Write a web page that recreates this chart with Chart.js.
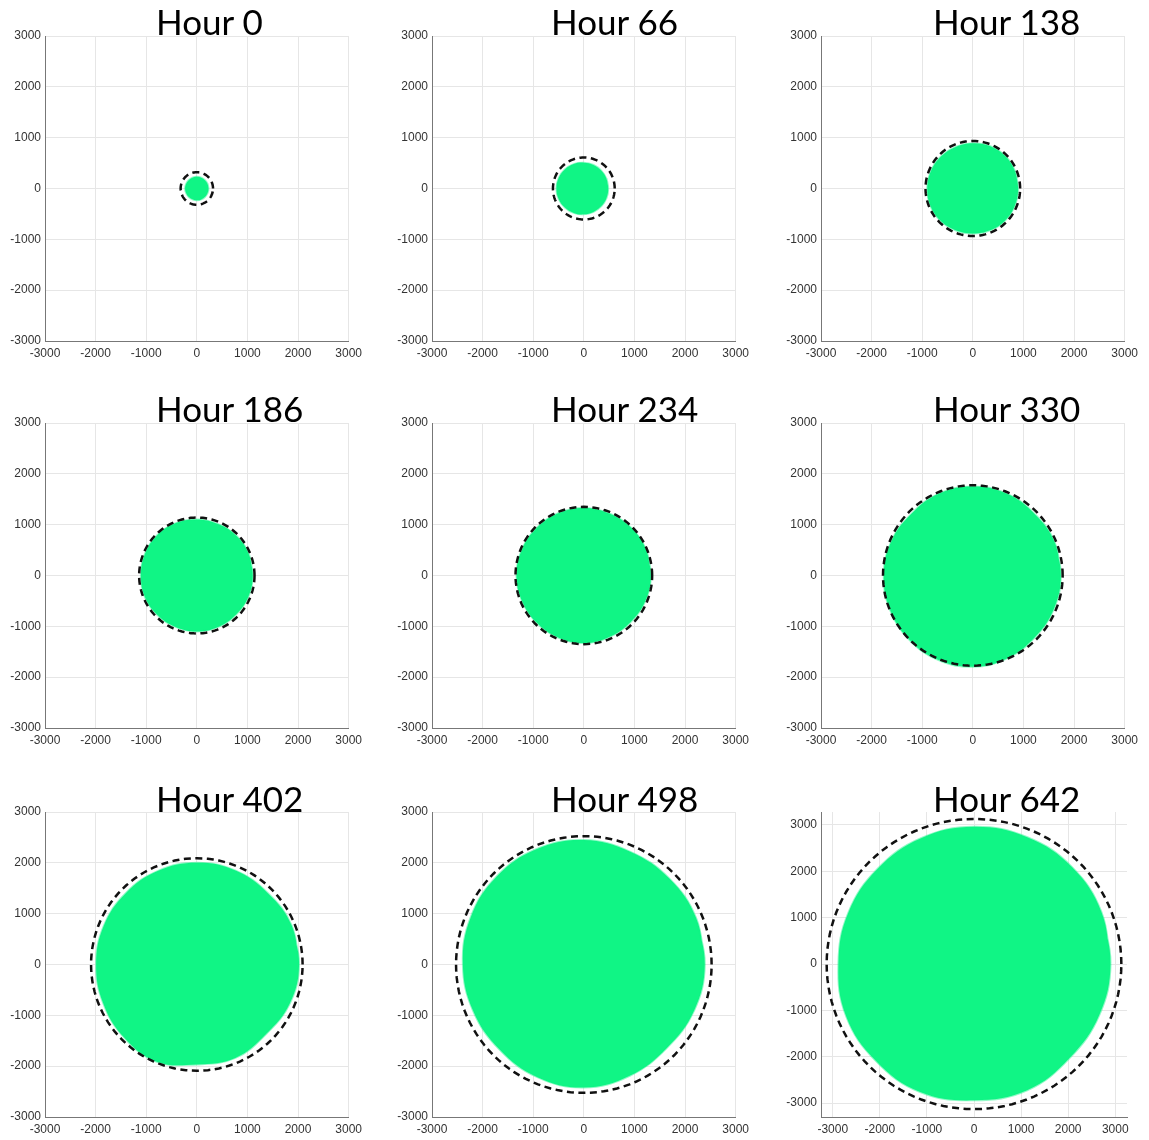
<!DOCTYPE html>
<html>
<head>
<meta charset="utf-8">
<title>Hour panels</title>
<script src="https://cdn.jsdelivr.net/npm/chart.js@4.4.1/dist/chart.umd.min.js"></script>
<style>
    body { margin: 0; background: #fff; width: 1149px; height: 1140px; position: relative; overflow: hidden; }
    .painel { position: absolute; }
    .titulo { position: absolute; font-family: Lato, "Noto Sans", sans-serif; font-size: 35px; line-height: 35px; color: #000; white-space: nowrap; }
</style>
</head>
<body>
<script>
// horas de cada painel
const hours = [0, 66, 138, 186, 234, 330, 402, 498, 642];

// raio do círculo tracejado (mesma unidade dos eixos)
const circleRadius = [320, 610, 935, 1140, 1350, 1775, 2090, 2525, 3130];

// contorno da mancha verde: raio a cada 22.5 graus, começando a leste, sentido anti-horário
const blob0 = [230, 230, 228, 230, 232, 230, 228, 230, 232, 230, 230, 228, 230, 232, 230, 230];
const blob66 = [482, 486, 492, 500, 508, 520, 530, 538, 542, 538, 530, 520, 508, 498, 490, 485];
const blob138 = [895, 900, 905, 900, 890, 885, 890, 895, 900, 905, 900, 890, 885, 890, 895, 895];
const blob186 = [1105, 1110, 1105, 1095, 1100, 1110, 1115, 1110, 1105, 1110, 1100, 1095, 1100, 1095, 1090, 1100];
const blob234 = [1325, 1330, 1325, 1320, 1330, 1325, 1320, 1325, 1330, 1320, 1315, 1320, 1330, 1310, 1300, 1315];
const blob330 = [1740, 1745, 1720, 1745, 1752, 1745, 1715, 1745, 1760, 1770, 1780, 1795, 1795, 1765, 1725, 1730];
const blob402 = [2020, 2025, 1985, 2000, 2000, 1995, 1985, 1990, 1990, 2000, 2030, 2070, 1965, 1990, 1935, 1990];
const blob498 = [2390, 2400, 2390, 2400, 2450, 2455, 2440, 2420, 2390, 2370, 2360, 2400, 2420, 2370, 2320, 2360];
const blob642 = [2900, 2930, 2950, 2960, 2960, 2940, 2900, 2890, 2880, 2940, 2950, 2990, 2940, 2950, 2870, 2880];
const blobs = [blob0, blob66, blob138, blob186, blob234, blob330, blob402, blob498, blob642];

// limites dos eixos (o último painel é um pouco maior)
const xMin = [-3000, -3000, -3000, -3000, -3000, -3000, -3000, -3000, -3250];
const xMax = [3000, 3000, 3000, 3000, 3000, 3000, 3000, 3000, 3250];
const yMin = [-3000, -3000, -3000, -3000, -3000, -3000, -3000, -3000, -3300];
const yMax = [3000, 3000, 3000, 3000, 3000, 3000, 3000, 3000, 3280];
const tickValues = [-3000, -2000, -1000, 0, 1000, 2000, 3000];

document.addEventListener('DOMContentLoaded', function () {
    const colLeft = [0, 387, 776];
    const rowTop = [24, 411, 800];
    const titleLeft = [156, 551, 933];
    const titleBase = [35, 422, 812];

    function circlePoints(r) {
        const pts = [];
        for (let k = 0; k <= 120; k++) {
            const a = k / 120 * 2 * Math.PI;
            pts.push({ x: r * Math.cos(a), y: r * Math.sin(a) });
        }
        return pts;
    }

    function blobPoints(radii) {
        const pts = radii.map(function (r, k) {
            const a = k * 2 * Math.PI / radii.length;
            return { x: r * Math.cos(a), y: r * Math.sin(a) };
        });
        // repete os dois primeiros pontos para a curva fechar sem quina
        pts.push({ x: pts[0].x, y: pts[0].y });
        pts.push({ x: pts[1].x, y: pts[1].y });
        return pts;
    }

    function axis(min, max, isX) {
        return {
            type: 'linear',
            min: min,
            max: max,
            afterBuildTicks: function (s) { s.ticks = tickValues.map(v => ({ value: v })); },
            afterFit: function (s) {
                if (isX) s.height = 28; else s.width = 45;
            },
            grid: { color: '#e6e6e6', drawTicks: false, lineWidth: 1 },
            border: { color: '#777', width: 1 },
            ticks: {
                padding: isX ? 5 : 4,
                color: '#333',
                autoSkip: false,
                maxRotation: 0,
                font: { family: 'Liberation Sans', size: 12 },
                callback: v => String(v)
            }
        };
    }

    function createPanel(i) {
        const row = Math.floor(i / 3);
        const col = i % 3;

        const canvas = document.createElement('canvas');
        canvas.className = 'painel';
        canvas.width = 367;
        canvas.height = 345;
        canvas.style.left = colLeft[col] + 'px';
        canvas.style.top = rowTop[row] + 'px';
        document.body.appendChild(canvas);

        const titulo = document.createElement('div');
        titulo.className = 'titulo';
        titulo.textContent = 'Hour ' + hours[i];
        titulo.style.left = titleLeft[col] + 'px';
        titulo.style.top = (titleBase[row] - 31) + 'px';
        document.body.appendChild(titulo);

        return new Chart(canvas.getContext('2d'), {
            type: 'scatter',
            data: {
                datasets: [{
                    label: 'limite',
                    data: circlePoints(circleRadius[i]),
                    showLine: true,
                    borderColor: '#111',
                    borderWidth: 2.5,
                    borderDash: [7, 4.5],
                    pointRadius: 0,
                    fill: false
                }, {
                    label: 'area',
                    data: blobPoints(blobs[i]),
                    showLine: true,
                    tension: 0.4,
                    borderColor: 'rgba(16, 245, 133, 0.45)',
                    borderWidth: 2,
                    borderJoinStyle: 'round',
                    backgroundColor: '#10f585',
                    pointRadius: 0,
                    fill: 'shape'
                }]
            },
            options: {
                responsive: false,
                animation: false,
                layout: { padding: { left: 0, top: 12, right: 16, bottom: 0 } },
                plugins: {
                    legend: { display: false },
                    tooltip: { enabled: false }
                },
                scales: {
                    x: axis(xMin[i], xMax[i], true),
                    y: axis(yMin[i], yMax[i], false)
                }
            }
        });
    }

    for (let i = 0; i < hours.length; i++) {
        createPanel(i);
    }
});
</script>
</body>
</html>
